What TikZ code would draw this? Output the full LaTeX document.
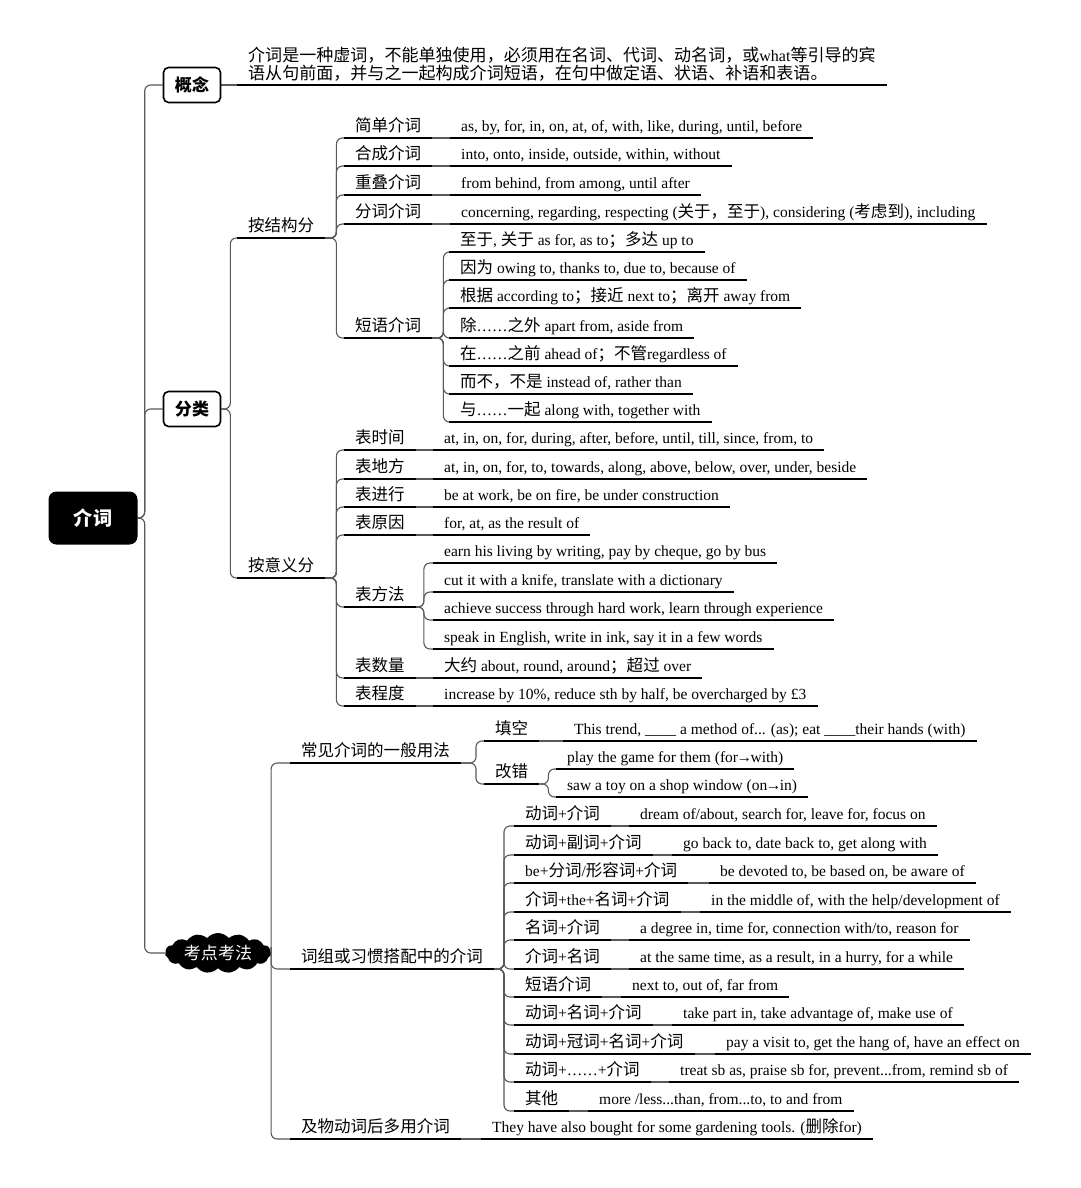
\documentclass[tikz,border=0pt]{standalone}
\usepackage{fontspec}
\setmainfont{Liberation Serif}
\newfontfamily\cjk[Scale=1.065]{Noto Sans CJK SC}
\usetikzlibrary{shapes.symbols,calc,backgrounds}
\XeTeXinterchartokenstate=1
\newXeTeXintercharclass\cjkcls
\makeatletter
\def\setcjkrange#1#2#3{\count@=#1\relax\loop\XeTeXcharclass\count@=#3\relax\ifnum\count@<#2\relax\advance\count@ by 1\relax\repeat}
\setcjkrange{"3000}{"303F}{\cjkcls}
\setcjkrange{"4E00}{"9FFF}{\cjkcls}
\setcjkrange{"FF00}{"FFEF}{\cjkcls}
\setcjkrange{"20}{"7E}{0}
\makeatother
\XeTeXcharclass"2026=0
\XeTeXcharclass"2192=0
\XeTeXcharclass"A3=0
\XeTeXinterchartoks 0 \cjkcls = {\cjk}
\XeTeXinterchartoks 4095 \cjkcls = {\cjk}
\XeTeXinterchartoks \cjkcls 0 = {\rmfamily}
\XeTeXinterchartoks \cjkcls 4095 = {\rmfamily}
\tikzset{
  cn/.style={draw=black!65, line width=1.1pt, rounded corners=6pt},
  ulline/.style={line width=2.3pt, draw=black},
  lab/.style={anchor=south west, inner xsep=11pt, inner ysep=2.5pt, text height=12pt, text depth=3.5pt, font=\fontsize{15.5}{18}\selectfont},
  desctext/.style={anchor=south west, inner xsep=11pt, inner ysep=3.5pt, align=left, font=\fontsize{16}{17.5}\selectfont},
  box/.style={draw=black, line width=1.6pt, rounded corners=5pt, fill=white, minimum width=57pt, minimum height=35pt, font=\bfseries\fontsize{16}{18}\selectfont},
  rootbox/.style={fill=black, text=white, rounded corners=8pt, minimum width=89pt, minimum height=53pt, font=\bfseries\fontsize{18}{20}\selectfont},
  cloudbox/.style={cloud, cloud puffs=15, cloud puff arc=100, cloud ignores aspect, fill=black, text=white, minimum width=106pt, minimum height=40pt, inner sep=0pt, font=\fontsize{16}{18}\selectfont}
}
\begin{document}
\begin{tikzpicture}[x=1pt,y=-1pt]
\begin{pgfonlayer}{background}
\fill[white] (0,0) rectangle (1080,1188);
\end{pgfonlayer}
\useasboundingbox (0,0) rectangle (1080,1188);

% main nodes
\node[rootbox] (root) at (93,518) {介词};
\node[box] (gn) at (192,85) {概念};
\node[box] (fl) at (192,409) {分类};
\node[cloudbox] (kd) at (218,953) {考点考法};

% concept
\node[desctext] (desc) at (237,85) {介词是一种虚词，不能单独使用，必须用在名词、代词、动名词，或what等引导的宾\\语从句前面，并与之一起构成介词短语，在句中做定语、状语、补语和表语。};

% classification
\node[lab] (s1) at (237,238) {按结构分};
\node[lab] (s2) at (237,578) {按意义分};

\node[lab] (a1) at (344,138) {简单介词};
\node[lab] (a2) at (344,166) {合成介词};
\node[lab] (a3) at (344,195) {重叠介词};
\node[lab] (a4) at (344,224) {分词介词};
\node[lab] (a5) at (344,338) {短语介词};
\node[lab] (la1) at (450,138) {as, by, for, in, on, at, of, with, like, during, until, before};
\node[lab] (la2) at (450,166) {into, onto, inside, outside, within, without};
\node[lab] (la3) at (450,195) {from behind, from among, until after};
\node[lab] (la4) at (450,224) {concerning, regarding, respecting (关于，至于), considering (考虑到), including};
\node[lab] (b1) at (449,252) {至于, 关于 as for, as to；多达 up to};
\node[lab] (b2) at (449,280) {因为 owing to, thanks to, due to, because of};
\node[lab] (b3) at (449,308) {根据 according to；接近 next to；离开 away from};
\node[lab] (b4) at (449,338) {除……之外 apart from, aside from};
\node[lab] (b5) at (449,366) {在……之前 ahead of；不管regardless of};
\node[lab] (b6) at (449,394) {而不，不是 instead of, rather than};
\node[lab] (b7) at (449,422) {与……一起 along with, together with};

\node[lab] (c1) at (344,450) {表时间};
\node[lab] (c2) at (344,479) {表地方};
\node[lab] (c3) at (344,507) {表进行};
\node[lab] (c4) at (344,535) {表原因};
\node[lab] (c5) at (344,607) {表方法};
\node[lab] (c6) at (344,678) {表数量};
\node[lab] (c7) at (344,706) {表程度};
\node[lab] (lc1) at (433,450) {at, in, on, for, during, after, before, until, till, since, from, to};
\node[lab] (lc2) at (433,479) {at, in, on, for, to, towards, along, above, below, over, under, beside};
\node[lab] (lc3) at (433,507) {be at work, be on fire, be under construction};
\node[lab] (lc4) at (433,535) {for, at, as the result of};
\node[lab] (d1) at (433,563) {earn his living by writing, pay by cheque, go by bus};
\node[lab] (d2) at (433,592) {cut it with a knife, translate with a dictionary};
\node[lab] (d3) at (433,620) {achieve success through hard work, learn through experience};
\node[lab] (d4) at (433,649) {speak in English, write in ink, say it in a few words};
\node[lab] (lc6) at (433,678) {大约 about, round, around；超过 over};
\node[lab] (lc7) at (433,706) {increase by 10\%, reduce sth by half, be overcharged by £3};

% test points
\node[lab] (e1) at (290,763) {常见介词的一般用法};
\node[lab] (e2) at (290,969) {词组或习惯搭配中的介词};
\node[lab] (e3) at (290,1139) {及物动词后多用介词};
\node[lab] (le3) at (481,1139) {They have also bought for some gardening tools. (删除for)};

\node[lab] (f1) at (484,741) {填空};
\node[lab] (f2) at (484,784) {改错};
\node[lab] (g1) at (563,741) {This trend, \_\_\_\_ a method of... (as); eat \_\_\_\_their hands (with)};
\node[lab] (g2) at (556,769) {play the game for them (for\kern-1.5pt→\kern-1.5pt with)};
\node[lab] (g3) at (556,797) {saw a toy on a shop window (on\kern-1.5pt→\kern-1.5pt in)};

\node[lab] (h1) at (514,826) {动词+介词};
\node[lab] (h2) at (514,855) {动词+副词+介词};
\node[lab] (h3) at (514,883) {be+分词/形容词+介词};
\node[lab] (h4) at (514,912) {介词+the+名词+介词};
\node[lab] (h5) at (514,940) {名词+介词};
\node[lab] (h6) at (514,969) {介词+名词};
\node[lab] (h7) at (514,997) {短语介词};
\node[lab] (h8) at (514,1025) {动词+名词+介词};
\node[lab] (h9) at (514,1054) {动词+冠词+名词+介词};
\node[lab] (h10) at (514,1082) {动词+……+介词};
\node[lab] (h11) at (514,1111) {其他};
\node[lab] (lh1) at (629,826) {dream of/about, search for, leave for, focus on};
\node[lab] (lh2) at (672,855) {go back to, date back to, get along with};
\node[lab] (lh3) at (709,883) {be devoted to, be based on, be aware of};
\node[lab] (lh4) at (700,912) {in the middle of, with the help/development of};
\node[lab] (lh5) at (629,940) {a degree in, time for, connection with/to, reason for};
\node[lab] (lh6) at (629,969) {at the same time, as a result, in a hurry, for a while};
\node[lab] (lh7) at (621,997) {next to, out of, far from};
\node[lab] (lh8) at (672,1025) {take part in, take advantage of, make use of};
\node[lab] (lh9) at (715,1054) {pay a visit to, get the hang of, have an effect on};
\node[lab] (lh10) at (669,1082) {treat sb as, praise sb for, prevent...from, remind sb of};
\node[lab] (lh11) at (588,1111) {more /less...than, from...to, to and from};

% connectors (behind the nodes)
\begin{pgfonlayer}{background}
\foreach \c in {gn,fl,kd} \draw[cn] (root.east) -- ++(7,0) |- (\c.west);
\draw[cn] (gn.east) -- (desc.south west);
\foreach \c in {s1,s2} \draw[cn] (fl.east) -- ++(9,0) |- (\c.south west);
\foreach \c in {a1,a2,a3,a4,a5} \draw[cn] (s1.south east) -- ++(11,0) |- (\c.south west);
\foreach \p/\c in {a1/la1,a2/la2,a3/la3,a4/la4} \draw[cn] (\p.south east) -- (\c.south west);
\foreach \c in {b1,b2,b3,b4,b5,b6,b7} \draw[cn] (a5.south east) -- ++(11,0) |- (\c.south west);
\foreach \c in {c1,c2,c3,c4,c5,c6,c7} \draw[cn] (s2.south east) -- ++(11,0) |- (\c.south west);
\foreach \p/\c in {c1/lc1,c2/lc2,c3/lc3,c4/lc4,c6/lc6,c7/lc7} \draw[cn] (\p.south east) -- (\c.south west);
\foreach \c in {d1,d2,d3,d4} \draw[cn] (c5.south east) -- ++(8,0) |- (\c.south west);
\foreach \c in {e1,e2,e3} \draw[cn] (kd.east) -- ++(0,0) |- (\c.south west);
\draw[cn] (e3.south east) -- (le3.south west);
\foreach \c in {f1,f2} \draw[cn] (e1.south east) -- ++(15,0) |- (\c.south west);
\draw[cn] (f1.south east) -- (g1.south west);
\foreach \c in {g2,g3} \draw[cn] (f2.south east) -- ++(9,0) |- (\c.south west);
\foreach \c in {h1,h2,h3,h4,h5,h6,h7,h8,h9,h10,h11} \draw[cn] (e2.south east) -- ++(10,0) |- (\c.south west);
\foreach \i in {1,...,11} \draw[cn] (h\i.south east) -- (lh\i.south west);
\end{pgfonlayer}

% underlines
\foreach \n in {desc,s1,s2,a1,a2,a3,a4,a5,la1,la2,la3,la4,b1,b2,b3,b4,b5,b6,b7,c1,c2,c3,c4,c5,c6,c7,lc1,lc2,lc3,lc4,lc6,lc7,d1,d2,d3,d4,e1,e2,e3,le3,f1,f2,g1,g2,g3,h1,h2,h3,h4,h5,h6,h7,h8,h9,h10,h11,lh1,lh2,lh3,lh4,lh5,lh6,lh7,lh8,lh9,lh10,lh11}
  \draw[ulline] (\n.south west) -- (\n.south east);
\end{tikzpicture}
\end{document}
